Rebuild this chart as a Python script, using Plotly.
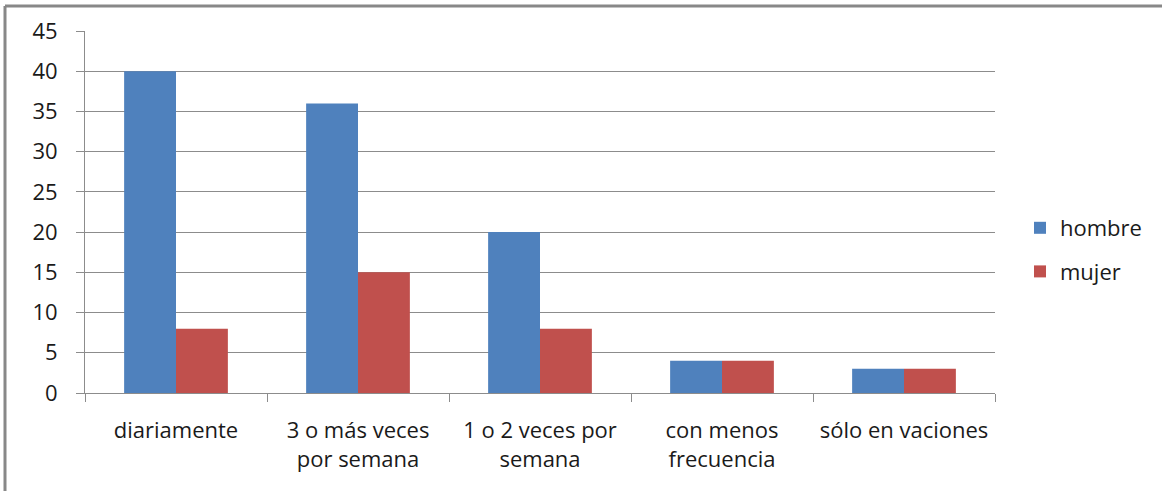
import plotly.graph_objects as go

categories = ["diariamente", "3 o más veces<br>por semana", "1 o 2 veces por<br>semana",
              "con menos<br>frecuencia", "sólo en vaciones"]
hombre = [40, 36, 20, 4, 3]
mujer = [8, 15, 8, 4, 3]
y_ticks = [0, 5, 10, 15, 20, 25, 30, 35, 40, 45]

W, H = 1162, 491
L, R, T, B = 85, 167, 31, 98

fig = go.Figure()
fig.add_trace(go.Bar(name="hombre", x=categories, y=hombre, legendgroup="h",
                     marker=dict(color="#4f81bd", line=dict(width=0))))
fig.add_trace(go.Bar(name="mujer", x=categories, y=mujer, legendgroup="m",
                     marker=dict(color="#c0504d", line=dict(width=0))))

font = dict(family="Open Sans, Carlito, sans-serif", size=22, color="#1a1a1a")

# outer frame: left and top edges only
pw, ph = W - L - R, H - T - B
px0 = (5 - L) / pw
py_top = 1 + (T - 6) / ph
py_bot = -(B) / ph
fig.add_shape(type="line", xref="paper", yref="paper", x0=px0, x1=px0,
              y0=py_bot, y1=py_top, line=dict(color="#888888", width=3))
fig.add_shape(type="line", xref="paper", yref="paper", x0=px0, x1=(W - L) / pw,
              y0=py_top, y1=py_top, line=dict(color="#888888", width=3))

fig.update_layout(
    width=W, height=H,
    margin=dict(l=L, r=R, t=T, b=B, pad=0),
    barmode="group", bargap=0.43, bargroupgap=0,
    plot_bgcolor="white", paper_bgcolor="white",
    font=font,
    xaxis=dict(showline=True, linecolor="#8c8c8c", linewidth=1,
               ticks="outside", tickson="boundaries", ticklen=8,
               tickcolor="#8c8c8c", showgrid=False, tickfont=font,
               ticklabelstandoff=18),
    yaxis=dict(range=[0, 45], tickvals=y_ticks, showline=True,
               linecolor="#8c8c8c", linewidth=1, ticks="outside", ticklen=8,
               tickcolor="#8c8c8c", gridcolor="#8c8c8c", gridwidth=1,
               zeroline=False, tickfont=font, ticklabelstandoff=14),
    legend=dict(x=(1020 - L) / pw, y=(393 - 250) / ph, xanchor="left", yanchor="middle",
                font=font, tracegroupgap=12, itemwidth=30,
                bgcolor="rgba(0,0,0,0)"),
    showlegend=True,
)

fig.write_html("out.html")
